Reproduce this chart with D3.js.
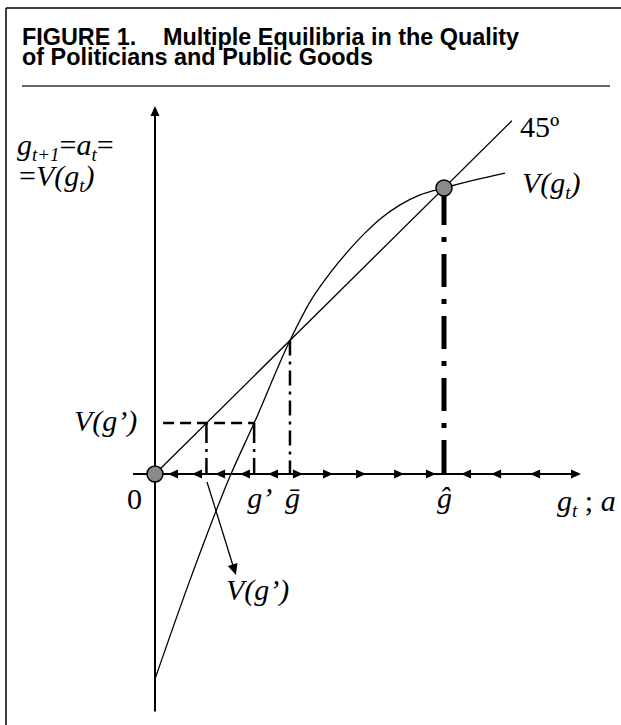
<!DOCTYPE html>
<html><head><meta charset="utf-8">
<script src="https://cdn.jsdelivr.net/npm/d3@7"></script>
<style>html,body{margin:0;padding:0;background:#fff;}svg{display:block;}</style>
</head><body>
<svg id="chart" width="621" height="725"></svg>
<script>
// ---- data ----
const gValues = [0, 1.21, 2.6, 3.43, 4.67, 5.40, 6.06, 6.75, 7.27, 7.79, 8.48, 9.17, 10, 11.07, 12.11];
const vValues = [-7.17, -3.71, -0.07, 1.78, 4.67, 6.08, 7.03, 7.87, 8.43, 8.92, 9.41, 9.76, 10, 10.28, 10.52];
const fortyFive = [0, 12.35];
const gPrime = 3.43, vPrime = 1.78;
const gBar = 4.67, gHat = 10;
const leftArrowTips = [0.45, 1.28, 2.08, 2.94, 3.91, 10.59, 11.63, 12.98];
const rightArrowTips = [5.12, 6.16, 7.30, 8.62, 9.72, 14.74];
const xAxisExtent = [-0.76, 14.74];
const yAxisExtent = [-8.3, 12.87];
const annotArrow = [[1.8, -0.28], [2.8, -3.53]];
const dashStart = 0.28;
const titleLines = ["of Politicians and Public Goods"];

const svg = d3.select("#chart");
const x = d3.scaleLinear().domain([0, 10]).range([155, 444]);
const y = d3.scaleLinear().domain([0, 10]).range([474, 188]);

// frame
svg.append("line").attr("x1", 6).attr("y1", 8).attr("x2", 621).attr("y2", 8).attr("stroke", "#000").attr("stroke-width", 1.5);
svg.append("line").attr("x1", 6).attr("y1", 8).attr("x2", 6).attr("y2", 725).attr("stroke", "#000").attr("stroke-width", 1.5);

// title (one wrapped text)
const tf = "'Liberation Sans', Arial, Helvetica, sans-serif";
const tt = svg.append("text").attr("x", 22).attr("y", 45).attr("font-family", tf).attr("font-weight", "bold").attr("font-size", 23.4);
tt.append("tspan").attr("x", 22).text("FIGURE 1.");
tt.append("tspan").attr("x", 163).text("Multiple Equilibria in the Quality");
tt.append("tspan").attr("x", 22).attr("dy", 20).text(titleLines[0]);
svg.append("line").attr("x1", 22).attr("x2", 610).attr("y1", 86).attr("y2", 86).attr("stroke", "#333").attr("stroke-width", 1.5);

const g = svg.append("g");

function tri(tipX, tipY, dir, len, half) {
  const [dx, dy] = dir;
  const bx = tipX - dx * len, by = tipY - dy * len;
  const px = -dy, py = dx;
  return `M${tipX},${tipY}L${bx + px * half},${by + py * half}L${bx - px * half},${by - py * half}Z`;
}

// y axis
g.append("line").attr("x1", x(0)).attr("x2", x(0)).attr("y1", y(yAxisExtent[0])).attr("y2", y(yAxisExtent[1]) + 6)
  .attr("stroke", "#000").attr("stroke-width", 2);
g.append("path").attr("d", tri(x(0), y(yAxisExtent[1]), [0, -1], 10, 4.5)).attr("fill", "#000");

// x axis
g.append("line").attr("x1", x(xAxisExtent[0])).attr("x2", x(xAxisExtent[1]) - 4).attr("y1", y(0)).attr("y2", y(0))
  .attr("stroke", "#000").attr("stroke-width", 2);
leftArrowTips.forEach(t => g.append("path").attr("d", tri(x(t), y(0), [-1, 0], 10, 4.5)).attr("fill", "#000"));
rightArrowTips.forEach(t => g.append("path").attr("d", tri(x(t), y(0), [1, 0], 10, 4.5)).attr("fill", "#000"));

// 45 degree line
g.append("line").attr("x1", x(fortyFive[0])).attr("y1", y(fortyFive[0])).attr("x2", x(fortyFive[1])).attr("y2", y(fortyFive[1]))
  .attr("stroke", "#000").attr("stroke-width", 1.3);

// V curve
const line = d3.line().x((d, i) => x(gValues[i])).y((d, i) => y(vValues[i])).curve(d3.curveMonotoneX);
g.append("path").attr("d", line(gValues)).attr("fill", "none").attr("stroke", "#000").attr("stroke-width", 1.3);

// dashed guides
g.append("line").attr("x1", x(dashStart)).attr("x2", x(gPrime)).attr("y1", y(vPrime)).attr("y2", y(vPrime))
  .attr("stroke", "#000").attr("stroke-width", 2.5).attr("stroke-dasharray", "11,6");
[vPrime, gPrime].forEach(xv => g.append("line").attr("x1", x(xv)).attr("x2", x(xv)).attr("y1", y(vPrime)).attr("y2", y(0))
  .attr("stroke", "#000").attr("stroke-width", 2.5).attr("stroke-dasharray", "20,6,3,6"));
g.append("line").attr("x1", x(gBar)).attr("x2", x(gBar)).attr("y1", y(gBar)).attr("y2", y(0))
  .attr("stroke", "#000").attr("stroke-width", 2.5).attr("stroke-dasharray", "15,6,3,6");
g.append("line").attr("x1", x(gHat)).attr("x2", x(gHat)).attr("y1", y(0) - 1).attr("y2", y(gHat))
  .attr("stroke", "#000").attr("stroke-width", 5).attr("stroke-dasharray", "33,12,5,12");

// annotation arrow
const [a0, a1] = annotArrow;
const ax0 = x(a0[0]), ay0 = y(a0[1]), ax1 = x(a1[0]), ay1 = y(a1[1]);
const L = Math.hypot(ax1 - ax0, ay1 - ay0), ux = (ax1 - ax0) / L, uy = (ay1 - ay0) / L;
g.append("line").attr("x1", ax0).attr("y1", ay0).attr("x2", ax1 - ux * 6).attr("y2", ay1 - uy * 6).attr("stroke", "#000").attr("stroke-width", 1.3);
g.append("path").attr("d", tri(ax1, ay1, [ux, uy], 11, 5)).attr("fill", "#000");

// equilibrium points
[0, gHat].forEach(e => g.append("circle").attr("cx", x(e)).attr("cy", y(e)).attr("r", 8)
  .attr("fill", "#8a8a8a").attr("stroke", "#000").attr("stroke-width", 1.5));

// labels
const sf = "'Liberation Serif', 'Times New Roman', Times, serif";
const FS = 30, SS = 19;
function label(px, py, size, italic) {
  return svg.append("text").attr("x", px).attr("y", py).attr("font-family", sf).attr("font-size", size)
    .attr("font-style", italic ? "italic" : "normal").attr("fill", "#000");
}
// y-axis label (one wrapped text)
const yl = label(17, 155, FS, true);
yl.append("tspan").text("g");
yl.append("tspan").attr("font-size", SS).attr("dy", 6).text("t+1");
yl.append("tspan").attr("dy", -6).attr("font-style", "normal").text("=");
yl.append("tspan").text("a");
yl.append("tspan").attr("font-size", SS).attr("dy", 6).text("t");
yl.append("tspan").attr("dy", -6).attr("font-style", "normal").text("=");
yl.append("tspan").attr("x", 19).attr("dy", 31).attr("font-style", "normal").text("=");
yl.append("tspan").text("V(g");
yl.append("tspan").attr("font-size", SS).attr("dy", 6).text("t");
yl.append("tspan").attr("dy", -6).text(")");

label(520, 137, FS, false).text("45º");
const vr = label(522, 193, FS, true);
vr.append("tspan").text("V(g");
vr.append("tspan").attr("font-size", SS).attr("dy", 6).text("t");
vr.append("tspan").attr("dy", -6).text(")");

label(74, 431, FS, true).text("V(g’)");
label(226, 600, FS, true).text("V(g’)");

label(127, 509, FS, false).text("0");
label(x(gPrime) - 7, 508, FS, true).text("g’");
label(x(gBar) - 5, 508, FS, true).text("ḡ");
label(x(gHat) - 7, 508, FS, true).text("ĝ");
const xl = label(557, 511, FS, true);
xl.append("tspan").text("g");
xl.append("tspan").attr("font-size", SS).attr("dy", 6).text("t");
xl.append("tspan").attr("dy", -6).attr("font-style", "normal").text(" ; ");
xl.append("tspan").text("a");
</script>
</body></html>
